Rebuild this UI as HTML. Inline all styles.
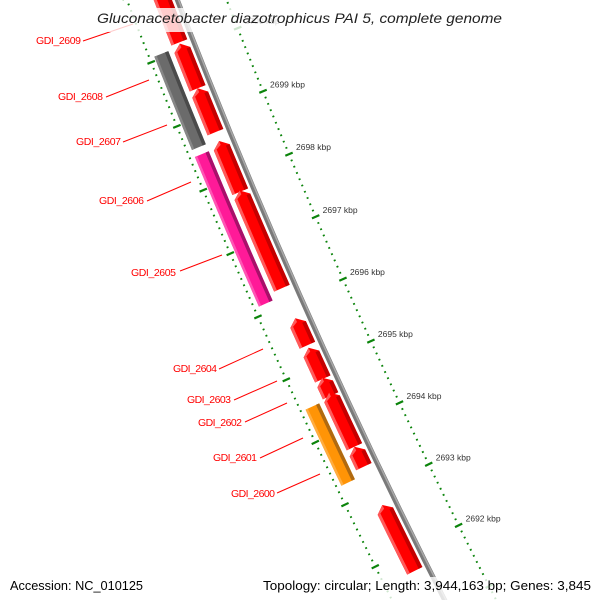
<!DOCTYPE html>
<html><head><meta charset="utf-8">
<style>
html,body{margin:0;padding:0;background:#fff;width:600px;height:600px;overflow:hidden;}
svg{display:block;overflow:hidden;}
text{font-family:"Liberation Sans","DejaVu Sans",sans-serif;}
</style></head>
<body>
<svg id="map" width="600" height="600" viewBox="0 0 600 600" xmlns="http://www.w3.org/2000/svg">
  <rect x="0" y="0" width="600" height="600" fill="#ffffff"/>
  <g id="rulers"></g>
  <g id="backbone"></g>
  <g id="features"></g>
  <g id="labels" font-size="10.5" fill="#ff0000">
    <line x1="83" y1="41" x2="133" y2="24" stroke="#ff0000" stroke-width="1"/>
    <text x="36" y="44" textLength="45">GDI_2609</text>
    <line x1="106" y1="97" x2="149" y2="80" stroke="#ff0000" stroke-width="1"/>
    <text x="58" y="100" textLength="45">GDI_2608</text>
    <line x1="123" y1="142" x2="167" y2="125" stroke="#ff0000" stroke-width="1"/>
    <text x="76" y="145" textLength="45">GDI_2607</text>
    <line x1="147" y1="201" x2="191" y2="182" stroke="#ff0000" stroke-width="1"/>
    <text x="99" y="204" textLength="45">GDI_2606</text>
    <line x1="180" y1="271" x2="222" y2="255" stroke="#ff0000" stroke-width="1"/>
    <text x="131" y="276" textLength="45">GDI_2605</text>
    <line x1="219" y1="369" x2="263" y2="349" stroke="#ff0000" stroke-width="1"/>
    <text x="173" y="372" textLength="44">GDI_2604</text>
    <line x1="234" y1="400" x2="277" y2="381" stroke="#ff0000" stroke-width="1"/>
    <text x="187" y="403" textLength="44">GDI_2603</text>
    <line x1="245" y1="422" x2="287" y2="403" stroke="#ff0000" stroke-width="1"/>
    <text x="198" y="426" textLength="44">GDI_2602</text>
    <line x1="260" y1="458" x2="303" y2="438" stroke="#ff0000" stroke-width="1"/>
    <text x="213" y="461" textLength="44">GDI_2601</text>
    <line x1="277" y1="493" x2="320" y2="474" stroke="#ff0000" stroke-width="1"/>
    <text x="231" y="497" textLength="44">GDI_2600</text>
  </g>
  <rect x="92" y="8" width="416" height="24" fill="#ffffff" fill-opacity="0.8"/>
  <text x="97" y="23" font-size="14" font-style="italic" fill="#222" textLength="405" lengthAdjust="spacingAndGlyphs">Gluconacetobacter diazotrophicus PAI 5, complete genome</text>
  <rect x="4" y="576" width="146" height="24" fill="#ffffff" fill-opacity="0.8"/>
  <text x="10" y="590" font-size="13" fill="#000" textLength="133" lengthAdjust="spacingAndGlyphs">Accession: NC_010125</text>
  <rect x="258" y="577" width="340" height="23" fill="#ffffff" fill-opacity="0.8"/>
  <text x="263" y="590" font-size="13" fill="#000" textLength="328" lengthAdjust="spacingAndGlyphs">Topology: circular; Length: 3,944,163 bp; Genes: 3,845</text>
</svg>
<script>
// ---- data (kbp) ----
const strand1Starts = [2700.12, 2699.40, 2698.71, 2697.77, 2696.24, 2695.33, 2694.79, 2694.52, 2693.70, 2693.38, 2691.69];
const strand1Ends   = [2701.00, 2700.10, 2699.40, 2698.57, 2697.79, 2695.76, 2695.29, 2694.81, 2694.57, 2693.70, 2692.76];
const strand1Names  = ["gdi-2609","gdi-2608-a","gdi-2607","gdi-2606","gdi-2605-a","gdi-2604","gdi-2603","gdi-2602-a","gdi-2602","gdi-2601-a","gdi-2599"];
const strand2Starts = [2698.60, 2696.13, 2693.27];
const strand2Ends   = [2700.06, 2698.49, 2694.49];
const strand2Names  = ["gdi-2608","gdi-2605","gdi-2600"];
const strand2Kinds  = ["gray","pink","orange"];
const tickLabels    = [2692, 2693, 2694, 2695, 2696, 2697, 2698, 2699, 2700];
const rulerStart = 2690.8, rulerEnd = 2701.2;

// ---- geometry ----
const CX = 6294, CY = -2365;
const R_BACK = 6558, R_RULER_IN = 6512, R_RULER_OUT = 6605;
const S1 = [6563, 6580], S2 = [6585, 6600];
function theta(k){ return (157.84 + 0.5986*(k-2699)) * Math.PI/180; }
function pt(k, r){ const t = theta(k); return [CX + r*Math.cos(t), CY + r*Math.sin(t)]; }
function f(p){ return p[0].toFixed(2)+','+p[1].toFixed(2); }
const NS = "http://www.w3.org/2000/svg";
function arcPts(k0, k1, r){ const n=12, out=[]; for(let i=0;i<=n;i++){ out.push(pt(k0+(k1-k0)*i/n, r)); } return out; }
function band(k0,k1,r0,r1){ return arcPts(k0,k1,r0).concat(arcPts(k1,k0,r1)); }

const ruler = document.getElementById('rulers');
const bb = document.getElementById('backbone');
const feats = document.getElementById('features');

function arcPath(k0,k1,r){ return 'M'+arcPts(k0,k1,r).map(f).join('L'); }
{
  const p = document.createElementNS(NS,'path');
  
  
  p.setAttribute('d', arcPath(2690.9, 2701.2, R_BACK));
  p.setAttribute('stroke', '#7a7a7a'); p.setAttribute('stroke-width', '5'); p.setAttribute('fill','none');
  bb.appendChild(p);
  const p2 = document.createElementNS(NS,'path');
  
  
  p2.setAttribute('d', arcPath(2690.9, 2701.2, R_BACK-1.2));
  p2.setAttribute('stroke', '#a8a8a8'); p2.setAttribute('stroke-width', '1.5'); p2.setAttribute('fill','none');
  bb.appendChild(p2);
}

function tick(k, r, len, w){
  const a = pt(k, r-len/2), b = pt(k, r+len/2);
  const l = document.createElementNS(NS,'line');
  
  
  l.setAttribute('x1', a[0]); l.setAttribute('y1', a[1]); l.setAttribute('x2', b[0]); l.setAttribute('y2', b[1]);
  l.setAttribute('stroke', '#0b840b'); l.setAttribute('stroke-width', w);
  ruler.appendChild(l);
}
for (let i = Math.round(rulerStart*10); i <= Math.round(rulerEnd*10); i++){
  const k = i/10;
  const major = (i % 10 === 0);
  tick(k, R_RULER_IN, major ? 8 : 2, major ? 2.2 : 1.7);
  tick(k, R_RULER_OUT, major ? 8 : 2, major ? 2.2 : 1.7);
}
tickLabels.forEach(k => {
  const p = pt(k, R_RULER_IN);
  const t = document.createElementNS(NS,'text');
  
  
  t.setAttribute('x', p[0]+7); t.setAttribute('y', p[1]-4);
  t.setAttribute('font-size', '8.5'); t.setAttribute('fill', '#333');
  t.textContent = k + ' kbp';
  ruler.appendChild(t);
});

function poly(points, fill, name){
  const p = document.createElementNS(NS,'polygon');
  
  
  p.setAttribute('points', points.map(f).join(' '));
  p.setAttribute('fill', fill);
  return p;
}
const HEAD = 0.10;
strand1Starts.forEach((s, i) => {
  const e = strand1Ends[i];
  const g = document.createElementNS(NS,'g');
  
  
  const h = Math.min(HEAD, (e-s)*0.45);
  const r0 = S1[0], r1 = S1[1], rm = (r0+r1)/2;
  const body = arcPts(s, e-h, r0).concat([pt(e, rm)]).concat(arcPts(e-h, s, r1));
  g.appendChild(poly(body, '#ff0000', 'arrow-body'));
  g.appendChild(poly(band(s, e-h, r0, r0+4), '#c40000', 'arrow-shadow'));
  g.appendChild(poly(band(s, e-h, r1-3, r1), '#ff5a5a', 'arrow-highlight'));
  g.appendChild(poly([pt(e-h, r1), pt(e, rm), pt(e-h*0.6, rm), pt(e-h, r1-3)], '#ff5a5a', 'arrow-head-highlight'));
  feats.appendChild(g);
});
const kindFill = {gray:'#6b6b6b', pink:'#ff1a98', orange:'#ff9406'};
const kindDark = {gray:'#4a4a4a', pink:'#a8106a', orange:'#b06a10'};
const kindLight= {gray:'#878787', pink:'#ff55b4', orange:'#ffad40'};
strand2Starts.forEach((s, i) => {
  const e = strand2Ends[i], kd = strand2Kinds[i];
  const g = document.createElementNS(NS,'g');
  
  
  g.appendChild(poly(band(s, e, S2[0], S2[1]), kindFill[kd], 'block-body'));
  g.appendChild(poly(band(s, e, S2[0], S2[0]+3.5), kindDark[kd], 'block-shadow'));
  g.appendChild(poly(band(s, e, S2[1]-2.5, S2[1]), kindLight[kd], 'block-highlight'));
  feats.appendChild(g);
});
</script>
</body></html>
